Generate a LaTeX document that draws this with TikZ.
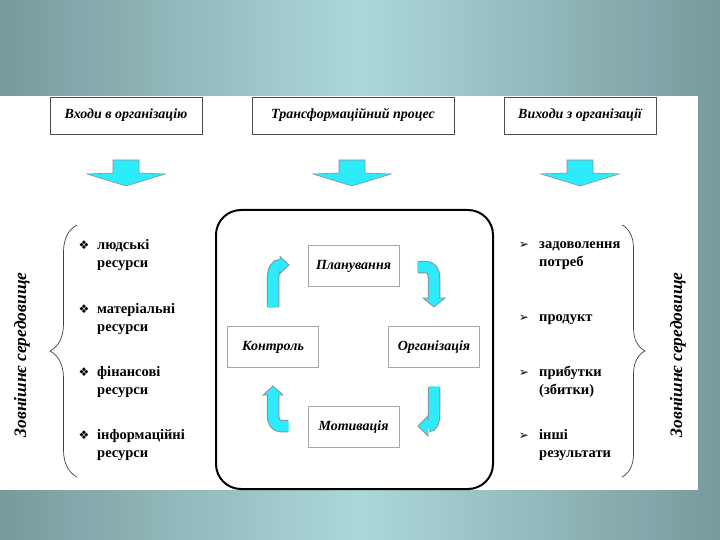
\documentclass[tikz,border=0pt]{standalone}
\usepackage{fontspec}
\setmainfont{Liberation Serif}
\newfontfamily\symfont{DejaVu Sans}
\usetikzlibrary{decorations.pathreplacing}
\definecolor{bgedge}{RGB}{120,154,157}
\definecolor{bgmid}{RGB}{172,216,218}
\definecolor{arrcyan}{RGB}{45,235,250}
\definecolor{arrline}{RGB}{135,145,150}
\tikzset{pics/blockdown/.style={code={
  \filldraw[fill=arrcyan,draw=arrline,line width=0.6pt]
    (-13,0) -- (13,0) -- (13,13) -- (39,14) -- (0,26) -- (-39,14) -- (-13,13) -- cycle;}}}
\begin{document}
\begin{tikzpicture}[x=1pt,y=-1pt,
  topbox/.style={draw=black!70,line width=0.8pt,fill=white,minimum height=37pt,inner sep=0pt,text height=9pt,text depth=2pt,font=\fontsize{14}{16}\selectfont\bfseries\itshape},
  cyclebox/.style={draw=gray!70,line width=0.8pt,fill=white,minimum width=91pt,minimum height=41pt,inner sep=0pt,text height=9pt,text depth=2pt,font=\fontsize{14}{16}\selectfont\bfseries\itshape},
  item/.style={anchor=base west,inner sep=0pt,font=\fontsize{14.5}{16}\selectfont\bfseries},
  bul/.style={anchor=base,inner sep=0pt,font=\symfont\fontsize{12}{13}\selectfont},
  envtext/.style={rotate=90,inner sep=0pt,font=\fontsize{17.5}{19}\selectfont\bfseries\itshape},
  cshaftout/.style={draw=arrline,line width=12.5pt},
  cshaftin/.style={draw=arrcyan,line width=10.5pt},
  chead/.style={fill=arrcyan,draw=arrline,line width=0.8pt,line join=miter},
  envbrace/.style={draw=black!75,line width=0.7pt,decorate,decoration={brace,amplitude=#1}}
]
\useasboundingbox (0,0) rectangle (720,540);
% background
\shade[left color=bgedge,right color=bgedge,middle color=bgmid] (0,0) rectangle (720,540);
\fill[white] (0,96) rectangle (698,490);

% top boxes
\node[topbox,minimum width=152pt] (in) at (126,115.5) {Входи в організацію};
\node[topbox,minimum width=202pt] (tr) at (353,115.5) {Трансформаційний процес};
\node[topbox,minimum width=152pt] (out) at (580,115.5) {Виходи з організації};
\pic at (in.south |- 0,160) {blockdown};
\pic at (352,160) {blockdown};
\pic at (out.south |- 0,160) {blockdown};

% central rounded box
\node[draw,line width=2pt,rounded corners=25pt,minimum width=277pt,minimum height=279pt] (core) at (354.5,349.5) {};
\node[cyclebox] (plan) at (353.5,266) {Планування};
\node[cyclebox] (ctrl) at (273,346.5) {Контроль};
\node[cyclebox] (org) at (434,346.5) {Організація};
\node[cyclebox] (mot) at (353.5,427) {Мотивація};

% curved arrows
% control -> planning
\path[cshaftout] (273,307) -- (273,279) .. controls (273,270) and (276,265) .. (281,265);
\path[cshaftin] (273,307.6) -- (273,279) .. controls (273,270) and (276,265) .. (281,265);
\path[chead] (280,259.8) -- (280,256.5) -- (289,265) -- (280,273.5) -- (280,270.2);
% planning -> organisation
\path[cshaftout] (418,267) -- (425,267) .. controls (431,267) and (434,271) .. (434,278) -- (434,298);
\path[cshaftin] (417.4,267) -- (425,267) .. controls (431,267) and (434,271) .. (434,278) -- (434,298);
\path[chead] (428.8,298) -- (423,298) -- (434,307) -- (445,298) -- (439.2,298);
% organisation -> motivation
\path[cshaftout] (434,387) -- (434,414) .. controls (434,422) and (432,426) .. (428,426);
\path[cshaftin] (434,386.4) -- (434,414) .. controls (434,422) and (432,426) .. (428,426);
\path[chead] (428,420.8) -- (428,416) -- (418,426) -- (428,436) -- (428,431.2);
% motivation -> control
\path[cshaftout] (288,426) -- (281,426) .. controls (276,426) and (273,422) .. (273,415) -- (273,395);
\path[cshaftin] (288.6,426) -- (281,426) .. controls (276,426) and (273,422) .. (273,415) -- (273,395);
\path[chead] (278.2,395) -- (283,395) -- (273,386) -- (263,395) -- (267.8,395);

% left list
\node[bul] (bl1) at (84,249) {❖};
\node[item] (l1a) at (97,249) {людські};
\node[item] (l1b) at (97,267) {ресурси};
\node[bul] (bl2) at (84,313) {❖};
\node[item] (l2a) at (97,313) {матеріальні};
\node[item] (l2b) at (97,331) {ресурси};
\node[bul] (bl3) at (84,376) {❖};
\node[item] (l3a) at (97,376) {фінансові};
\node[item] (l3b) at (97,394) {ресурси};
\node[bul] (bl4) at (84,439) {❖};
\node[item] (l4a) at (97,439) {інформаційні};
\node[item] (l4b) at (97,457) {ресурси};

% right list
\node[bul] (br1) at (524,248) {➢};
\node[item] (r1a) at (539,248) {задоволення};
\node[item] (r1b) at (539,266) {потреб};
\node[bul] (br2) at (524,321) {➢};
\node[item] (r2a) at (539,321) {продукт};
\node[bul] (br3) at (524,376) {➢};
\node[item] (r3a) at (539,376) {прибутки};
\node[item] (r3b) at (539,394) {(збитки)};
\node[bul] (br4) at (524,439) {➢};
\node[item] (r4a) at (539,439) {інші};
\node[item] (r4b) at (539,457) {результати};

% braces
\coordinate (lbb) at (77,477);
\coordinate (lbt) at (77,225);
\draw[envbrace=27pt] (lbb) -- (lbt);
\coordinate (rbt) at (622,225);
\coordinate (rbb) at (622,477);
\draw[envbrace=23pt] (rbt) -- (rbb);

% environment labels
\node[envtext] (envl) at (22,355) {Зовнішнє середовище};
\node[envtext] (envr) at (678,355) {Зовнішнє середовище};
\end{tikzpicture}
\end{document}
